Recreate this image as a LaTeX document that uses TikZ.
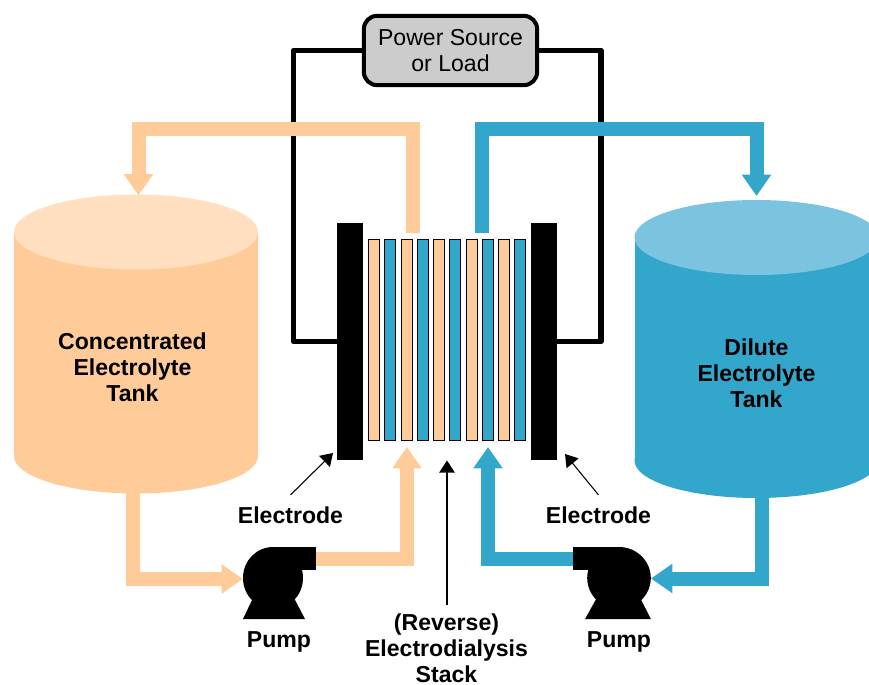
\documentclass[tikz,border=0pt]{standalone}
\usepackage{fontspec}
\setmainfont{Liberation Sans}
\usetikzlibrary{arrows.meta}
\definecolor{edPeach}{HTML}{FFCC99}
\definecolor{edPeachLid}{HTML}{FFDFBF}
\definecolor{edBlue}{HTML}{33A6CC}
\definecolor{edBlueLid}{HTML}{7AC4DF}
\definecolor{edGray}{HTML}{CCCCCC}
\tikzset{
  ed pipe/.style={line width=10.5pt, -{Triangle[length=16pt,width=21pt]}},
  ed wire/.style={draw=black, line width=4.2pt, line join=round},
  ed pointer/.style={draw=black, line width=0.8pt, -{Triangle[length=9pt,width=11.5pt]}},
  ed source/.style={draw=black, fill=edGray, line width=3pt, rounded corners=10pt, minimum width=130pt, minimum height=52pt, inner sep=0pt},
  ed electrode/.style={fill=black, minimum width=19.5pt, minimum height=177.75pt, inner sep=0pt},
  ed membrane/.style={draw=black, line width=0.75pt, minimum width=8.2pt, minimum height=151pt, inner sep=0pt},
  ed label/.style={font=\fontsize{17.3}{19.5}\selectfont\bfseries, align=center, inner sep=0pt},
  ed small label/.style={font=\fontsize{17.3}{19.5}\selectfont, align=center, inner sep=0pt},
}

\begin{document}
\begin{tikzpicture}[x=0.75pt,y=-0.75pt]
  \useasboundingbox (0,0) rectangle (869,685);
  \clip (0,0) rectangle (869,685);

  % Tanks: body, lower rim, lid
  \foreach \cx/\ytop/\ybot/\body/\lid in {136/232/456/edPeach/edPeachLid, 756.5/237.5/460.5/edBlue/edBlueLid} {
    \fill[\body] (\cx,\ybot) ellipse [x radius=122, y radius=37.5];
    \fill[\body] (\cx-122,\ytop) rectangle (\cx+122,\ybot);
    \fill[\lid] (\cx,\ytop) ellipse [x radius=122, y radius=37.5];
  }
  \node[ed label] (tankConc) at (132.5,367) {Concentrated\\Electrolyte\\Tank};
  \node[ed label] (tankDil) at (756.5,373) {Dilute\\Electrolyte\\Tank};

  % Stack: electrodes and ten membranes
  \node[ed electrode] (elecL) at (350,341.5) {};
  \node[ed electrode] (elecR) at (544,341.5) {};
  \foreach \i/\col in {0/edPeach,1/edBlue,2/edPeach,3/edBlue,4/edPeach,5/edBlue,6/edPeach,7/edBlue,8/edPeach,9/edBlue} {
    \node[ed membrane, fill=\col] (mem\i) at (374.2+16.25*\i,340) {};
  }

  % Power source and its wires
  \coordinate (wireL) at (293.5,341.5);
  \coordinate (wireR) at (601,341.5);
  \node[ed source, ed small label] (power) at (450.5,50.5) {Power Source\\or Load};
  \draw[ed wire] (power.west) -| (wireL) -- (elecL.west);
  \draw[ed wire] (power.east) -| (wireR) -- (elecR.east);

  % Pumps
  \foreach \nm/\px/\sx in {pumpL/273/1, pumpR/619/-1.06} {
    \begin{scope}[shift={(\px,578)}, xscale=\sx]
      \coordinate (\nm) at (0,0);
      \fill[black] (0,0) ellipse [x radius=30, y radius=31];
      \fill[black] (0,-31) rectangle (43,-8);
      \fill[black] (-30,41) -- (32,41) -- (21,20) -- (-20,20) -- cycle;
    \end{scope}
  }

  % Pipes, concentrated side
  \coordinate (concOut) at (133,485);
  \coordinate (concIn) at (243,579);
  \coordinate (concPump) at (316,558.5);
  \coordinate (concStack) at (407,447);
  \coordinate (concTop) at (413,233);
  \coordinate (concTurn) at (138.5,129.5);
  \coordinate (concLid) at (138.5,195.5);
  \draw[ed pipe, draw=edPeach] (concOut) |- (concIn);
  \draw[ed pipe, draw=edPeach] (concPump) -| (concStack);
  \draw[ed pipe, draw=edPeach] (concTop) |- (concTurn) -- (concLid);

  % Pipes, dilute side
  \coordinate (dilOut) at (761.5,490);
  \coordinate (dilIn) at (651,578.5);
  \coordinate (dilPump) at (573,559);
  \coordinate (dilStack) at (488,447);
  \coordinate (dilTop) at (482,233);
  \coordinate (dilTurn) at (756.5,129.5);
  \coordinate (dilLid) at (756.5,196);
  \draw[ed pipe, draw=edBlue] (dilOut) |- (dilIn);
  \draw[ed pipe, draw=edBlue] (dilPump) -| (dilStack);
  \draw[ed pipe, draw=edBlue] (dilTop) |- (dilTurn) -- (dilLid);

  % Labels and pointers
  \node[ed label, outer ysep=8.7pt] (labElecL) at (290.5,515) {Electrode};
  \node[ed label, outer ysep=8.7pt] (labElecR) at (598.5,515) {Electrode};
  \node[ed label] (labPumpL) at (279,642) {Pump};
  \node[ed label] (labPumpR) at (619,642) {Pump};
  \node[ed label] (labStack) at (446.5,648) {(Reverse)\\Electrodialysis\\Stack};
  \coordinate (tipL) at (333,453);
  \coordinate (tipR) at (565,454);
  \coordinate (tipS) at (447,460.5);
  \coordinate (footS) at (447,605);
  \draw[ed pointer] (labElecL.north) -- (tipL);
  \draw[ed pointer] (labElecR.north) -- (tipR);
  \draw[ed pointer] (footS) -- (tipS);
\end{tikzpicture}
\end{document}
